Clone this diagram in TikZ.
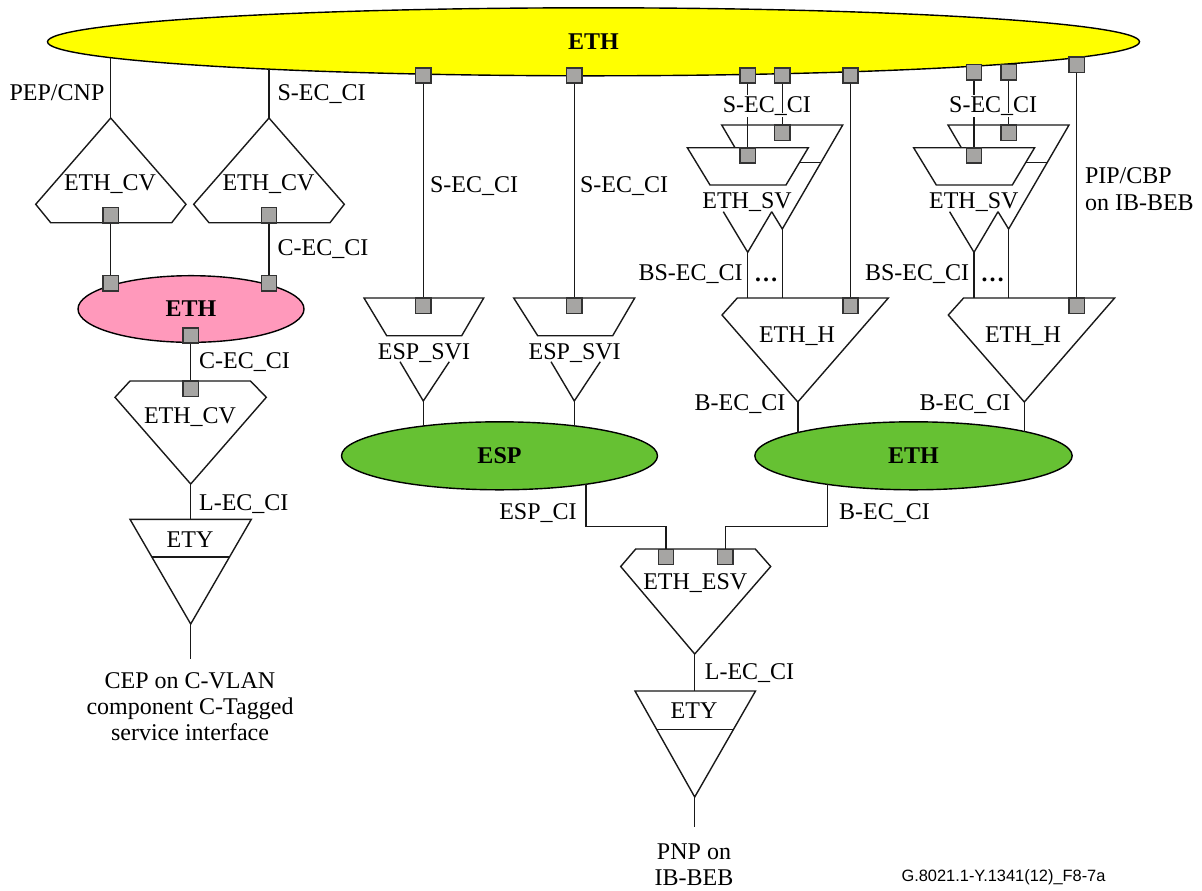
\documentclass[tikz,border=0pt]{standalone}
\usepackage{fontspec}
\setmainfont{Liberation Serif}
\newfontfamily\notefont{Liberation Sans}
\usetikzlibrary{shapes.geometric}
\definecolor{portgray}{HTML}{A6A5A3}
\definecolor{yellowfill}{HTML}{FFFF00}
\definecolor{pinkfill}{HTML}{FF99BB}
\definecolor{greenfill}{HTML}{66C133}

\begin{document}
\begin{tikzpicture}[x=0.75pt,y=-0.75pt,line width=1.05pt,line join=miter,
                    every node/.style={font=\fontsize{18}{19.5}\selectfont},
                    layer node/.style={ellipse,draw,inner sep=0pt,font=\fontsize{18}{19.5}\selectfont\bfseries},
                    port node/.style={rectangle,draw=black!80,fill=portgray,minimum size=11.5pt,inner sep=0pt},
                    text node/.style={anchor=base,inner sep=0pt},
                    cut node/.style={anchor=base,fill=white,inner sep=1pt},
                    block line/.style={draw,black!90}]
  \useasboundingbox (0,0) rectangle (1202,890);
  % layers
  \node[layer node,fill=yellowfill,minimum width=819pt,minimum height=51pt] (eth top) at (593.5,41.8) {ETH};
  \node[layer node,fill=pinkfill,minimum width=169.5pt,minimum height=50pt] (eth pink) at (191,309) {ETH};
  \node[layer node,fill=greenfill,minimum width=237pt,minimum height=51pt] (esp green) at (499.5,455.8) {ESP};
  \node[layer node,fill=greenfill,minimum width=238pt,minimum height=51pt] (eth green) at (913.5,455.8) {ETH};

  % free ends on the layers
  \coordinate (cv1 in) at (110.7,57.5);
  \coordinate (cv2 in) at (269,68.5);
  \coordinate (svi1 out) at (423.3,426);
  \coordinate (svi2 out) at (574.3,426);
  \coordinate (h1 out) at (797.8,432.5);
  \coordinate (h2 out) at (1024.3,431.5);
  \coordinate (esp out) at (586,484);
  \coordinate (eth out) at (827.7,484);

  % left column
  \coordinate (cv1 tip) at (110.7,118);
  \coordinate (cv2 tip) at (269,118);
  \coordinate (cv3 tip) at (190.7,484);
  \coordinate (ety1 top) at (190.7,519.3);
  \coordinate (ety1 tip) at (190.7,624);
  \coordinate (ety1 end) at (190.7,659);
  \draw[block line] (cv1 tip) -- (186,204.3) -- (171.7,222.7) -- (50.7,222.7) -- (35.7,204.3) -- cycle;
  \draw[block line] (cv2 tip) -- (344.3,204.3) -- (330,222.7) -- (209,222.7) -- (193.7,204.3) -- cycle;
  \draw[block line] (130,381) -- (250.5,381) -- (266.3,397.3) -- (cv3 tip) -- (115,397.3) -- cycle;
  \draw[block line] (130,519.3) -- (251.3,519.3) -- (ety1 tip) -- cycle;
  \draw[block line] (152,557) -- (229.5,557);

  % centre column
  \coordinate (svi1 tip) at (423.3,401);
  \coordinate (svi2 tip) at (574.3,401);
  \draw[block line] (364,298) -- (483.7,298) -- (461.7,335.7) -- (386.7,335.7) -- cycle;
  \draw[block line] (400,361.7) -- (svi1 tip) -- (449.3,361.7);
  \draw[block line] (513.7,298) -- (634.7,298) -- (612.7,335.7) -- (537.7,335.7) -- cycle;
  \draw[block line] (551,361.7) -- (svi2 tip) -- (600.3,361.7);

  % first S-VLAN pair
  \coordinate (sv1a tip) at (747.7,252.3);
  \coordinate (sv1b tip) at (782.3,229);
  \coordinate (h1a in) at (747.7,298);
  \coordinate (h1b in) at (782.3,298);
  \coordinate (h1 tip) at (797.8,402);
  \coordinate (sv1b cut) at (782.3,113);
  \draw[block line] (735,147.7) -- (721.7,125) -- (842.7,125) -- (sv1b tip) -- (771.7,211.7);
  \draw[block line] (799.3,162.7) -- (821.3,162.7);
  \draw[block line] (687.3,147.7) -- (808.3,147.7) -- (786,185) -- (710,185) -- cycle;
  \draw[block line] (723.3,211.7) -- (sv1a tip) -- (771.7,211.7);
  \draw[block line] (737.3,298) -- (888.3,298) -- (h1 tip) -- (722,315) -- cycle;

  % second S-VLAN pair
  \coordinate (sv2a tip) at (974,252.3);
  \coordinate (sv2b tip) at (1008.6,229);
  \coordinate (h2a in) at (974,298);
  \coordinate (h2b in) at (1008.6,298);
  \coordinate (h2 tip) at (1024.3,402);
  \coordinate (sv2b cut) at (1008.6,113);
  \draw[block line] (961.3,147.7) -- (948,125) -- (1069,125) -- (sv2b tip) -- (998,211.7);
  \draw[block line] (1025.6,162.7) -- (1047.6,162.7);
  \draw[block line] (913.6,147.7) -- (1034.6,147.7) -- (1012.3,185) -- (936.3,185) -- cycle;
  \draw[block line] (949.6,211.7) -- (sv2a tip) -- (998,211.7);
  \draw[block line] (963.6,298) -- (1114.6,298) -- (h2 tip) -- (948.3,315) -- cycle;

  % lower middle
  \coordinate (esv tip) at (694.7,654);
  \coordinate (ety2 top) at (694.7,691);
  \coordinate (ety2 tip) at (694.7,797);
  \coordinate (ety2 end) at (694.7,827);
  \coordinate (esp bend) at (666,526.7);
  \coordinate (eth bend) at (725.3,526.7);
  \draw[block line] (635.7,549) -- (755.3,549) -- (770.7,566.5) -- (esv tip) -- (620.7,566.5) -- cycle;
  \draw[block line] (635,691) -- (755.5,691) -- (ety2 tip) -- cycle;
  \draw[block line] (657,729.5) -- (733.5,729.5);

  % ports
  \node[port node] (cv1 port) at (110.7,215.4) {};
  \node[port node] (cv2 port) at (269,215.4) {};
  \node[port node] (pink1 port) at (110.7,283.3) {};
  \node[port node] (pink2 port) at (269,283.3) {};
  \node[port node] (pink3 port) at (190.7,335.5) {};
  \node[port node] (cv3 port) at (190.7,388.7) {};
  \node[port node] (top1 port) at (423.3,75.5) {};
  \node[port node] (top2 port) at (574.3,75.5) {};
  \node[port node] (svi1 port) at (423.3,305.7) {};
  \node[port node] (svi2 port) at (574.3,305.7) {};
  \node[port node] (top3 port) at (747.7,75.5) {};
  \node[port node] (top4 port) at (782.3,75.5) {};
  \node[port node] (top5 port) at (850.5,75.5) {};
  \node[port node] (sv1a port) at (747.7,155.5) {};
  \node[port node] (sv1b port) at (782.3,132.7) {};
  \node[port node] (h1 port) at (850.5,305.7) {};
  \node[port node] (top6 port) at (974,72.3) {};
  \node[port node] (top7 port) at (1008.6,72.3) {};
  \node[port node] (top8 port) at (1076.7,64.7) {};
  \node[port node] (sv2a port) at (974,155.5) {};
  \node[port node] (sv2b port) at (1008.6,132.7) {};
  \node[port node] (h2 port) at (1076.7,305.7) {};
  \node[port node] (esv1 port) at (666,557) {};
  \node[port node] (esv2 port) at (725.3,557) {};

  % connectors
  \path[black!90]
    (cv1 in) edge (cv1 tip)
    (cv2 in) edge (cv2 tip)
    (cv1 port) edge (pink1 port)
    (cv2 port) edge (pink2 port)
    (pink3 port) edge (cv3 port)
    (cv3 tip) edge (ety1 top)
    (ety1 tip) edge (ety1 end)
    (top1 port) edge (svi1 port)
    (top2 port) edge (svi2 port)
    (svi1 tip) edge (svi1 out)
    (svi2 tip) edge (svi2 out)
    (top3 port) edge (sv1a port)
    (top4 port) edge (sv1b port)
    (top5 port) edge (h1 port)
    (sv1a tip) edge (h1a in)
    (sv1b tip) edge (h1b in)
    (h1 tip) edge (h1 out)
    (top6 port) edge (sv2a port)
    (top7 port) edge (sv2b port)
    (top8 port) edge (h2 port)
    (sv2a tip) edge (h2a in)
    (sv2b tip) edge (h2b in)
    (h2 tip) edge (h2 out)
    (esv tip) edge (ety2 top)
    (ety2 tip) edge (ety2 end);
  \draw[black!90] (esp out) |- (esp bend) -- (esv1 port);
  \draw[black!90] (eth out) |- (eth bend) -- (esv2 port);

  % labels
  \node[text node] (pep label) at (57,100) {PEP/CNP};
  \node[text node] (sec1 label) at (321.5,100) {S-EC\_CI};
  \node[text node] (cv1 label) at (110,190.7) {ETH\_CV};
  \node[text node] (cv2 label) at (268.5,190.7) {ETH\_CV};
  \node[text node] (cec1 label) at (323,255) {C-EC\_CI};
  \node[text node] (cec2 label) at (244.5,368) {C-EC\_CI};
  \node[text node] (cv3 label) at (190,423) {ETH\_CV};
  \node[text node] (lec1 label) at (243.8,510.7) {L-EC\_CI};
  \node[text node] (ety1 label) at (190,547.5) {ETY};
  \node[text node,anchor=north,align=center] (cep label) at (190,672) {CEP on C-VLAN\\component C-Tagged\\service interface};
  \node[text node] (sec2 label) at (474,192) {S-EC\_CI};
  \node[text node] (sec3 label) at (624,192) {S-EC\_CI};
  \node[text node] (svi1 label) at (424,359.3) {ESP\_SVI};
  \node[text node] (svi2 label) at (574.7,359.3) {ESP\_SVI};
  \node[cut node] (sec4 label) at (766.8,112.3) {S-EC\_CI};
  \node[cut node] (sec5 label) at (993.2,112.3) {S-EC\_CI};
  \node[text node] (sv1 label) at (747,208.3) {ETH\_SV};
  \node[text node] (sv2 label) at (973.8,208.3) {ETH\_SV};
  \node[text node] (bs1 label) at (690.5,280) {BS-EC\_CI};
  \node[text node] (bs2 label) at (917,280) {BS-EC\_CI};
  \node[text node,font=\fontsize{18}{19.5}\selectfont\bfseries] (dots1) at (766,281) {…};
  \node[text node,font=\fontsize{18}{19.5}\selectfont\bfseries] (dots2) at (992.5,281) {…};
  \node[text node] (h1 label) at (797,342) {ETH\_H};
  \node[text node] (h2 label) at (1023,342) {ETH\_H};
  \node[text node] (b1 label) at (740,410) {B-EC\_CI};
  \node[text node] (b2 label) at (965,410) {B-EC\_CI};
  \node[text node,anchor=base west] (pip label) at (1084.3,183.3) {PIP/CBP};
  \node[text node,anchor=base west] (beb label) at (1084.3,210.7) {on IB-BEB};
  \node[text node] (esp label) at (538,519) {ESP\_CI};
  \node[text node] (b3 label) at (884.5,519) {B-EC\_CI};
  \node[text node] (esv label) at (695.3,589) {ETH\_ESV};
  \node[text node] (lec2 label) at (749.5,679) {L-EC\_CI};
  \node[text node] (ety2 label) at (694,718.5) {ETY};
  \node[text node] (pnp label) at (694,859) {PNP on};
  \node[text node] (ib label) at (694,885) {IB-BEB};
  \node[text node,font=\notefont\fontsize{12.3}{14}\selectfont] (fig label) at (1003.5,881) {G.8021.1-Y.1341(12)\_F8-7a};

  % these two stay above the cut labels
  \path[black!90]
    (top4 port) edge (sv1b cut)
    (top7 port) edge (sv2b cut);
\end{tikzpicture}
\end{document}
